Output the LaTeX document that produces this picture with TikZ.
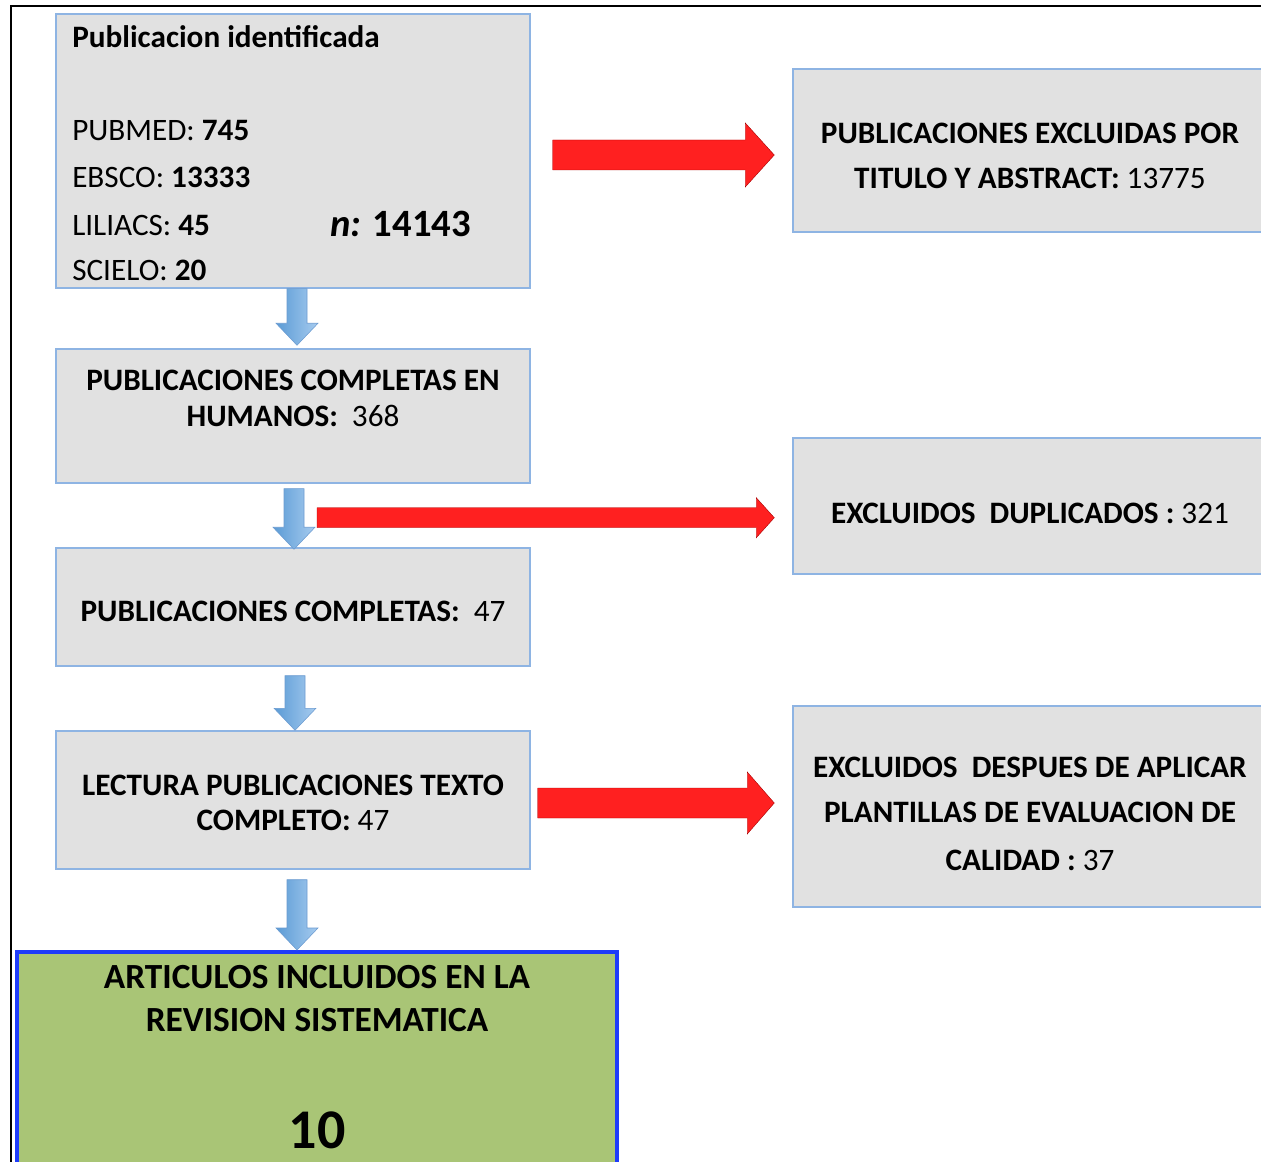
\documentclass[tikz,border=0pt]{standalone}
\usepackage{fontspec}
\setmainfont{Carlito}
\usetikzlibrary{fit,calc}
\definecolor{boxfill}{HTML}{E1E1E1}
\definecolor{boxedge}{HTML}{8EB4E3}
\definecolor{greenfill}{HTML}{A9C576}
\definecolor{greenedge}{HTML}{1E3CFA}
\definecolor{redarrow}{HTML}{FF2020}
\definecolor{arrowL}{HTML}{5B9BD5}
\definecolor{arrowR}{HTML}{A6CBEF}
\definecolor{arrowE}{HTML}{6A9AD0}
% blue block arrow pointing down: #1 start (top centre), #2 tip
\newcommand\blockdown[2]{%
  \shade[left color=arrowL, right color=arrowR, draw=arrowE, line width=0.4pt]
    let \p1=(#1), \p2=(#2) in
    (\x1-7.5pt,\y1) -- (\x1+7.5pt,\y1) -- (\x1+7.5pt,\y2+16.5pt) -- (\x1+15.75pt,\y2+16.5pt)
    -- (\x1,\y2) -- (\x1-15.75pt,\y2+16.5pt) -- (\x1-7.5pt,\y2+16.5pt) -- cycle;}
% red block arrow pointing right: #1 start, #2 tip, #3 shaft half height, #4 head half height, #5 head length (px)
\newcommand\blockright[5]{%
  \path[fill=redarrow, draw=red!65!black, line width=0.3pt]
    let \p1=(#1), \p2=(#2) in
    (\x1,\y1+#3*0.75pt) -- (\x2-#5*0.75pt,\y1+#3*0.75pt) -- (\x2-#5*0.75pt,\y1+#4*0.75pt)
    -- (\x2,\y1) -- (\x2-#5*0.75pt,\y1-#4*0.75pt) -- (\x2-#5*0.75pt,\y1-#3*0.75pt)
    -- (\x1,\y1-#3*0.75pt) -- cycle;}
\begin{document}
\begin{tikzpicture}[x=0.75pt,y=-0.75pt,
  box/.style={draw=boxedge, fill=boxfill, line width=1.1pt, inner sep=0pt},
  greenbox/.style={draw=greenedge, fill=greenfill, line width=3pt, inner sep=0pt},
  txt/.style={inner sep=0pt, font=\fontsize{23.4}{28}\selectfont},
  bigtxt/.style={inner sep=0pt, font=\fontsize{26.5}{30}\selectfont\bfseries}]
\useasboundingbox (0,0) rectangle (1261,1162);
\clip (0,0) rectangle (1261,1162);
\draw[line width=1.8pt] (1280,6) -- (11,6) -- (11,1180);

% left column boxes
\node[box, fit={(56,14) (530,288)}] (b1) {};
\node[box, fit={(56,349) (530,483)}] (b2) {};
\node[box, fit={(56,548) (530,666)}] (b3) {};
\node[box, fit={(56,731) (530,869)}] (b4) {};
\node[greenbox, fit={(17,952) (617,1185)}] (g) {};

% right column boxes
\node[box, fit={(793,69) (1280,232)}] (r1) {};
\node[box, fit={(793,438) (1280,574)}] (r2) {};
\node[box, fit={(793,706) (1280,907)}] (r3) {};

% texts box 1
\node[txt, anchor=base west] (t1a) at (72,48) {\textbf{Publicacion identificada}};
\node[txt, anchor=base west] (t1b) at (72,141) {PUBMED: \textbf{745}};
\node[txt, anchor=base west] (t1c) at (72,188) {EBSCO: \textbf{13333}};
\node[txt, anchor=base west] (t1d) at (72,236) {LILIACS: \textbf{45}};
\node[txt, anchor=base west] (t1e) at (72,281) {SCIELO: \textbf{20}};
\node[inner sep=0pt, font=\fontsize{29}{32}\selectfont\bfseries, anchor=base west] (t1n) at (330,237) {\textit{n:} 14143};

% texts box 2-4
\node[txt, anchor=base] (t2a) at (293,391) {\textbf{PUBLICACIONES COMPLETAS EN}};
\node[txt, anchor=base] (t2b) at (293,427) {\textbf{HUMANOS:}\ \ 368};
\node[txt, anchor=base] (t3a) at (293,621) {\textbf{PUBLICACIONES COMPLETAS:}\ \ 47};
\node[txt, anchor=base] (t4a) at (293,795) {\textbf{LECTURA PUBLICACIONES TEXTO}};
\node[txt, anchor=base] (t4b) at (293,830) {\textbf{COMPLETO:} 47};

% right texts
\node[txt, anchor=base] (tr1a) at (1030,144) {\textbf{PUBLICACIONES EXCLUIDAS POR}};
\node[txt, anchor=base] (tr1b) at (1030,189) {\textbf{TITULO Y ABSTRACT:} 13775};
\node[txt, anchor=base] (tr2a) at (1030,523) {\textbf{EXCLUIDOS\ \ DUPLICADOS :} 321};
\node[txt, anchor=base] (tr3a) at (1030,777) {\textbf{EXCLUIDOS\ \ DESPUES DE APLICAR}};
\node[txt, anchor=base] (tr3b) at (1030,822) {\textbf{PLANTILLAS DE EVALUACION DE}};
\node[txt, anchor=base] (tr3c) at (1030,870) {\textbf{CALIDAD :} 37};

% green texts
\node[bigtxt, anchor=base] (tga) at (317,988) {ARTICULOS INCLUIDOS EN LA};
\node[bigtxt, anchor=base] (tgb) at (317,1031) {REVISION SISTEMATICA};
\node[inner sep=0pt, font=\fontsize{42}{46}\selectfont\bfseries, anchor=base] (tgn) at (317,1148) {10};

% blue down arrows
\blockdown{$(b1.south)+(4,0)$}{$(b2.north)+(4,-3)$}
\blockdown{$(b2.south)+(1,5)$}{$(b3.north)+(1,2)$}
\blockdown{$(b3.south)+(2,9)$}{$(b4.north)+(2,0)$}
\blockdown{$(b4.south)+(4,10)$}{$(g.north)+(-20,0)$}

% red right arrows
\blockright{$(b1.east)+(22,4)$}{$(r1.west)+(-18,0)$}{15}{32}{29}
\blockright{$(b2.south)+(24,34)$}{$(r2.west)+(-18,0)$}{10}{20}{18}
\blockright{$(b4.east)+(7,3)$}{$(r3.west)+(-18,0)$}{15}{31}{27}
\end{tikzpicture}
\end{document}
